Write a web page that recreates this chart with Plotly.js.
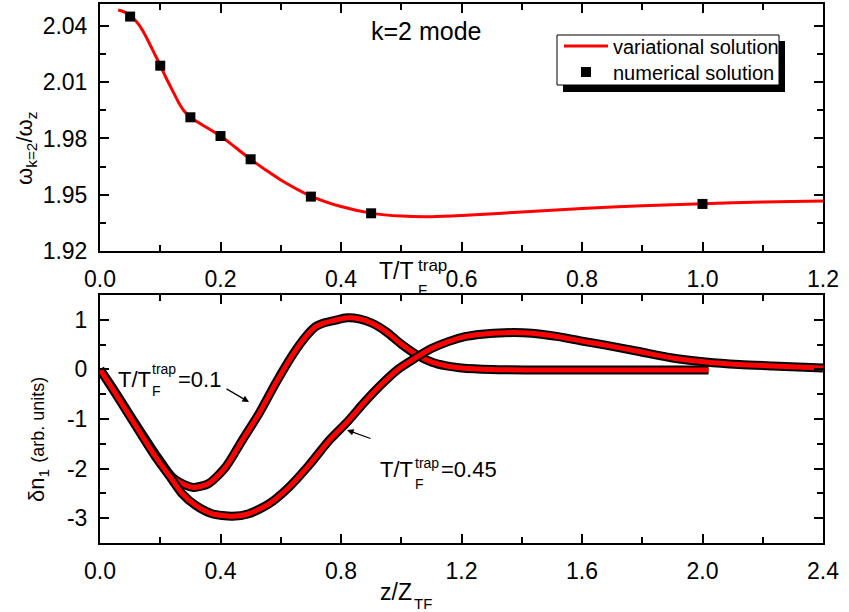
<!DOCTYPE html>
<html>
<head>
<meta charset="utf-8">
<script src="https://cdn.plot.ly/plotly-3.0.1.min.js"></script>
<style>
  html, body { margin: 0; padding: 0; background: #fff; }
  #chart { width: 849px; height: 612px; }
</style>
</head>
<body>
<div id="chart"></div>
<script>
// ---- upper panel: k=2 mode frequency versus temperature ----
const tVariational = [0.03, 0.04, 0.05, 0.06, 0.07, 0.08, 0.09, 0.10, 0.11, 0.12, 0.13, 0.14,
  0.15, 0.175, 0.20, 0.225, 0.25, 0.275, 0.30, 0.35, 0.40, 0.45, 0.50, 0.55, 0.60, 0.70,
  0.80, 0.90, 1.00, 1.10, 1.20];
const omegaVariational = [2.0485, 2.0475, 2.0455, 2.0425, 2.0380, 2.0320, 2.0255, 2.0190,
  2.0121, 2.0058, 1.9995, 1.9945, 1.9913, 1.9862, 1.9813, 1.9752, 1.9689, 1.9632, 1.9579,
  1.9493, 1.9437, 1.9402, 1.9386, 1.9383, 1.9389, 1.9408, 1.9427, 1.9441, 1.9452, 1.9461,
  1.9467];
const tNumerical = [0.05, 0.10, 0.15, 0.20, 0.25, 0.35, 0.45, 1.00];
const omegaNumerical = [2.0450, 2.0188, 1.9913, 1.9813, 1.9689, 1.9490, 1.9401, 1.9451];

// ---- lower panel: density fluctuation profiles ----
const zCold = [0, 0.05, 0.117, 0.183, 0.239, 0.272, 0.311, 0.361, 0.417, 0.472, 0.528,
  0.583, 0.639, 0.683, 0.715, 0.74, 0.78, 0.82, 0.86, 0.90, 0.95, 1.00, 1.05, 1.10, 1.15,
  1.20, 1.30, 1.50, 1.80, 2.02];
const dnCold = [0, -0.45, -1.09, -1.70, -2.17, -2.30, -2.38, -2.30, -1.97, -1.43, -0.89,
  -0.28, 0.29, 0.66, 0.86, 0.93, 0.99, 1.04, 1.02, 0.94, 0.76, 0.51, 0.30, 0.15, 0.07,
  0.03, 0.00, -0.01, -0.01, -0.01];
const zWarm = [0, 0.05, 0.117, 0.183, 0.239, 0.272, 0.317, 0.372, 0.439, 0.494, 0.561,
  0.628, 0.694, 0.761, 0.822, 0.878, 0.933, 0.989, 1.044, 1.10, 1.156, 1.211, 1.267, 1.344,
  1.433, 1.522, 1.60, 1.678, 1.789, 1.90, 2.011, 2.122, 2.233, 2.40];
const dnWarm = [0, -0.47, -1.12, -1.75, -2.22, -2.50, -2.74, -2.91, -2.96, -2.91, -2.71,
  -2.37, -1.93, -1.43, -1.05, -0.66, -0.31, 0.00, 0.22, 0.42, 0.56, 0.66, 0.71, 0.74,
  0.73, 0.66, 0.57, 0.49, 0.36, 0.23, 0.15, 0.10, 0.07, 0.03];

// ---- tick labels ----
const topXTicks = [0, 0.2, 0.4, 0.6, 0.8, 1.0, 1.2];
const topXLabels = ['0.0', '0.2', '0.4', '0.6', '0.8', '1.0', '1.2'];
const topYTicks = [1.92, 1.95, 1.98, 2.01, 2.04];
const topYLabels = ['1.92', '1.95', '1.98', '2.01', '2.04'];
const botXTicks = [0, 0.4, 0.8, 1.2, 1.6, 2.0, 2.4];
const botXLabels = ['0.0', '0.4', '0.8', '1.2', '1.6', '2.0', '2.4'];
const botYTicks = [-3, -2, -1, 0, 1];
const botYLabels = ['-3', '-2', '-1', '0', '1'];

const FONT = 'Liberation Sans, Arial, Helvetica, sans-serif';
const W = 849, H = 612;
const L = 100, R = 823, T = 4, B = 543;   // plotting frame in pixels
const px = X => (X - L) / (R - L);
const py = Y => (B - Y) / (B - T);

function note(text, X, Yc, size, extra) {
  return Object.assign({
    xref: 'paper', yref: 'paper', x: px(X), y: py(Yc),
    xanchor: 'left', yanchor: 'middle', showarrow: false, text: text,
    font: { family: FONT, size: size, color: '#000' }
  }, extra || {});
}
function arrow(headX, headY, tailX, tailY) {
  return {
    xref: 'paper', yref: 'paper', x: px(headX), y: py(headY),
    ax: tailX - headX, ay: tailY - headY, text: '', showarrow: true,
    arrowhead: 2, arrowsize: 1.1, arrowwidth: 1.2, arrowcolor: '#000'
  };
}

function axisBase(extra) {
  return Object.assign({
    showline: true, linecolor: '#000', linewidth: 2, mirror: 'allticks',
    ticks: 'inside', ticklen: 9, tickwidth: 2, tickcolor: '#000',
    showgrid: false, zeroline: false, tickmode: 'array',
    tickfont: { family: FONT, size: 23, color: '#000' },
    ticklabelstandoff: 6
  }, extra);
}
function minorTicks(step) {
  return { ticks: 'inside', ticklen: 6, tickwidth: 2, tickcolor: '#000',
           dtick: step, tick0: 0, showgrid: false };
}

const topDomain = [py(251), 1];
const botDomain = [0, py(295)];

const traces = [
  {
    x: tVariational, y: omegaVariational, xaxis: 'x', yaxis: 'y',
    type: 'scatter', mode: 'lines', name: 'variational solution', legend: 'legend',
    line: { color: '#ff0000', width: 3, shape: 'spline', smoothing: 0.8 }
  },
  {
    x: tNumerical, y: omegaNumerical, xaxis: 'x', yaxis: 'y',
    type: 'scatter', mode: 'markers', name: 'numerical solution', legend: 'legend2',
    marker: { symbol: 'square', size: 10, color: '#000' }
  }
];
// each profile: thick black band with a red core
[[zCold, dnCold], [zWarm, dnWarm]].forEach(([zs, dns]) => {
  traces.push({
    x: zs, y: dns, xaxis: 'x2', yaxis: 'y2', type: 'scatter', mode: 'lines',
    showlegend: false, hoverinfo: 'skip',
    line: { color: '#000', width: 9, shape: 'spline', smoothing: 0.7 }
  });
  traces.push({
    x: zs, y: dns, xaxis: 'x2', yaxis: 'y2', type: 'scatter', mode: 'lines',
    showlegend: false,
    line: { color: '#ff0000', width: 5, shape: 'spline', smoothing: 0.7 }
  });
});

const annotations = [
  note('k=2 mode', 369, 31, 25),
  // upper x-axis title with stacked indices
  note('T/T', 377, 271, 23),
  note('trap', 416, 265, 17),
  note('F', 416, 289, 15),
  // lower x-axis title
  note('z/Z', 378, 592, 23),
  note('TF', 412, 603, 15),
  // y-axis titles
  note('ω<sub>k=2</sub>/ω<sub>z</sub>', 26, 149, 22,
       { xanchor: 'center', textangle: -90 }),
  note('δn<sub>1</sub> <span style="font-size:18px">(arb. units)</span>', 38, 440, 22,
       { xanchor: 'center', textangle: -90 }),
  // profile labels
  note('T/T', 116, 379, 22),
  note('trap', 150, 369, 14),
  note('F', 150, 391, 14),
  note('=0.1', 176, 379, 22),
  arrow(249, 402, 225, 388),
  note('T/T', 378, 469, 22),
  note('trap', 413, 463, 14),
  note('F', 413, 484, 14),
  note('=0.45', 439, 469, 22),
  arrow(347, 430, 372, 439)
];

function legendAt(Yc) {
  return {
    x: px(559), y: py(Yc), xanchor: 'left', yanchor: 'middle',
    bgcolor: 'rgba(0,0,0,0)', borderwidth: 0, itemwidth: 44,
    font: { family: FONT, size: 20, color: '#000' }
  };
}

const layout = {
  width: W, height: H,
  margin: { l: L, r: W - R, t: T, b: H - B, pad: 0 },
  paper_bgcolor: '#fff', plot_bgcolor: '#fff',
  font: { family: FONT, size: 20, color: '#000' },
  showlegend: true,
  legend: legendAt(46),
  legend2: legendAt(72),
  xaxis: axisBase({
    domain: [0, 1], anchor: 'y', range: [0, 1.2],
    tickvals: topXTicks, ticktext: topXLabels, minor: minorTicks(0.1)
  }),
  yaxis: axisBase({
    domain: topDomain, anchor: 'x', range: [1.92, 2.0517],
    tickvals: topYTicks, ticktext: topYLabels,
    minor: Object.assign(minorTicks(0.015), { tick0: 1.92 })
  }),
  xaxis2: axisBase({
    domain: [0, 1], anchor: 'y2', range: [0, 2.4],
    tickvals: botXTicks, ticktext: botXLabels, minor: minorTicks(0.2)
  }),
  yaxis2: axisBase({
    domain: botDomain, anchor: 'x2', range: [-3.5, 1.5],
    tickvals: botYTicks, ticktext: botYLabels, minor: minorTicks(0.5)
  }),
  shapes: [
    // legend frame with its drop shadow
    { type: 'rect', xref: 'paper', yref: 'paper', layer: 'above',
      x0: px(563), x1: px(785), y0: py(41), y1: py(92),
      fillcolor: '#000', line: { width: 0 } },
    { type: 'rect', xref: 'paper', yref: 'paper', layer: 'above',
      x0: px(557), x1: px(779), y0: py(35), y1: py(85),
      fillcolor: '#fff', line: { color: '#000', width: 1 } }
  ],
  annotations: annotations
};

Plotly.newPlot('chart', traces, layout, { displayModeBar: false, staticPlot: true });
</script>
</body>
</html>
